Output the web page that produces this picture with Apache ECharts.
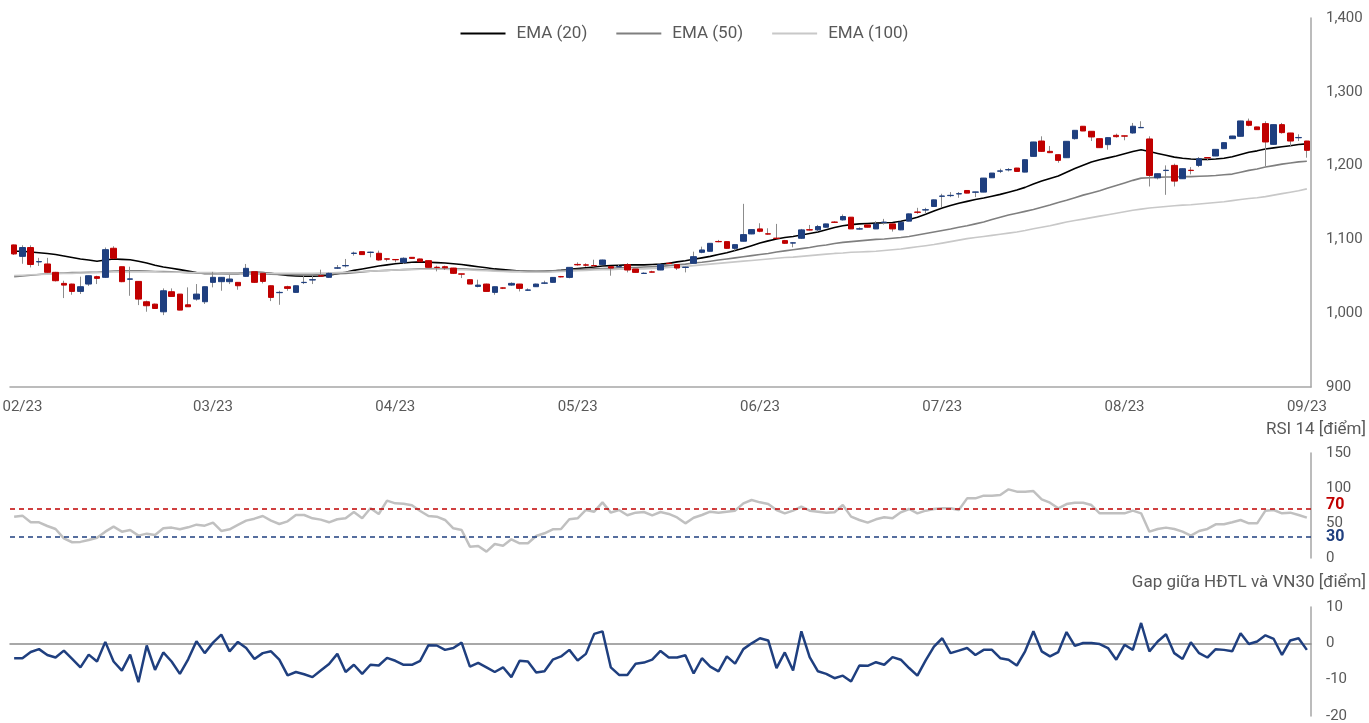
<!DOCTYPE html>
<html>
<head>
<meta charset="utf-8">
<title>HĐTL VN30 - EMA, RSI, Gap</title>
<script src="https://cdn.jsdelivr.net/npm/echarts@6/dist/echarts.min.js"></script>
<style>
    html, body { margin: 0; padding: 0; background: #fff; }
    #chart { width: 1369px; height: 723px; }
</style>
</head>
<body>
<div id="chart"></div>
<script>
// nến ngày: [mở cửa, đóng cửa, thấp nhất, cao nhất]
const ohlc = [
    [1092.5, 1080.3, 1079, 1093], [1077, 1089, 1067, 1092], [1089, 1066, 1062, 1092], [1069.5, 1070, 1064, 1075],
    [1066.7, 1055.4, 1055, 1075], [1055.4, 1044, 1043, 1056], [1040.4, 1038.1, 1020.5, 1044], [1039.5, 1029.5, 1025, 1040],
    [1029.5, 1035.9, 1026, 1049.5], [1039.5, 1050.8, 1037, 1051], [1049.5, 1047.2, 1039.5, 1050.8], [1048.6, 1086.1, 1048, 1089],
    [1088, 1074.4, 1073.5, 1090.7], [1063, 1042.7, 1042, 1063], [1046, 1046.5, 1023.6, 1063], [1043.1, 1019.1, 1011, 1043.5],
    [1015.5, 1010.1, 1002, 1017], [1012.3, 1006.4, 1006, 1013], [1001.9, 1030.4, 997.4, 1033.6], [1029.1, 1022.7, 1022.7, 1033.6],
    [1025.9, 1004.2, 1004, 1026], [1011.4, 1008.7, 1008.7, 1035], [1019.1, 1025.9, 1017, 1039.5], [1015.5, 1035.9, 1012.5, 1036],
    [1041.8, 1048.6, 1035, 1056], [1042.7, 1048.6, 1030.4, 1049], [1042.7, 1046.3, 1039.5, 1051.7], [1041.8, 1037.2, 1031.8, 1042],
    [1049.9, 1060.8, 1049.5, 1066.7], [1056.2, 1041.8, 1041, 1056.5], [1054, 1043.1, 1040.4, 1054], [1037.2, 1021.4, 1016.4, 1037.5],
    [1027.8, 1028.2, 1011.4, 1030.4], [1035.9, 1033.6, 1030.4, 1037.2], [1028.2, 1037.2, 1028, 1037.5], [1041.5, 1041.8, 1039.5, 1051],
    [1045, 1045.4, 1039.5, 1050.8], [1050.8, 1050.3, 1049.9, 1059], [1048.6, 1054, 1048, 1055], [1061, 1061.5, 1060, 1065.3],
    [1064.2, 1064.6, 1062, 1073.5], [1081, 1081.4, 1078, 1083.4], [1083.4, 1079.4, 1079, 1083.6], [1082.3, 1082.7, 1075.7, 1083.4],
    [1081.2, 1072.1, 1071.2, 1084.8], [1073.7, 1073.2, 1070.3, 1074], [1072.8, 1072.4, 1068.9, 1073], [1068.9, 1074.4, 1066.7, 1075.7],
    [1075.7, 1074.3, 1074, 1076], [1073.5, 1069.8, 1069.5, 1074], [1071.2, 1062.1, 1062, 1071.5], [1062.3, 1061.9, 1056.7, 1064.4],
    [1063, 1061.5, 1058.5, 1064.4], [1061.2, 1054, 1053.1, 1061.5], [1053.3, 1052.9, 1047.6, 1053.5], [1045.4, 1039.5, 1039.5, 1045.6],
    [1036.3, 1038.1, 1035, 1045.4], [1039.5, 1029.5, 1029.5, 1040], [1028.2, 1035.9, 1025, 1036], [1034.3, 1033.9, 1032.7, 1035],
    [1038.1, 1040.4, 1037.2, 1041.8], [1039.5, 1033.6, 1029.5, 1039.7], [1031.1, 1031.5, 1030.4, 1033.6], [1035.9, 1039.5, 1035.5, 1040],
    [1040.6, 1041, 1039.5, 1044], [1041.8, 1048.5, 1041.5, 1049], [1049.6, 1049.2, 1048.5, 1050.5], [1048.5, 1062.1, 1047.2, 1062.3],
    [1066.1, 1065.5, 1064.4, 1068.9], [1065.5, 1065.1, 1063, 1067.6], [1064.6, 1064.2, 1063, 1072.5], [1065.8, 1072.1, 1065.5, 1072.5],
    [1063, 1061.2, 1050.8, 1063.2], [1062.8, 1063.2, 1061.2, 1065.8], [1065.8, 1058.5, 1055.3, 1068], [1059.9, 1055.3, 1055, 1060],
    [1053.8, 1054.2, 1053.1, 1055.3], [1056, 1055.6, 1055.3, 1057.6], [1058.5, 1065.8, 1058.3, 1066], [1067.8, 1067.4, 1067.1, 1068.9],
    [1065.8, 1061.2, 1058.5, 1066], [1062, 1062.4, 1055.3, 1063], [1067.6, 1076.6, 1067.5, 1083.4], [1082.5, 1085.7, 1081.2, 1090.2],
    [1083.9, 1094.7, 1083.5, 1095], [1097.2, 1096.8, 1096.1, 1099.3], [1097, 1087.9, 1087.5, 1097.2], [1087.9, 1092.9, 1084.8, 1093],
    [1097.5, 1106.5, 1097.3, 1148.2], [1107.4, 1113.3, 1107, 1113.5], [1114.2, 1111, 1109.7, 1121.9], [1107.6, 1107.2, 1106.5, 1115.1],
    [1101.7, 1101.3, 1100.6, 1121], [1098.4, 1094.7, 1093.8, 1099.3], [1095, 1095.4, 1089.3, 1096], [1101.5, 1112.9, 1100.6, 1114.2],
    [1113.1, 1112.7, 1112, 1119.6], [1112.9, 1117.4, 1111, 1119.6], [1116.5, 1121, 1116, 1121.2], [1123.5, 1123.1, 1122.4, 1124.6],
    [1126.4, 1131, 1125.5, 1133.7], [1130.1, 1114.2, 1114, 1130.3], [1114, 1114.4, 1113.3, 1116.5], [1119.6, 1116.5, 1116.3, 1119.8],
    [1114.2, 1121, 1114, 1124.6], [1123, 1123.4, 1120.1, 1127.8], [1121, 1114.2, 1110.6, 1121.2], [1112.9, 1123.3, 1112.5, 1123.5],
    [1124.7, 1134.6, 1124.5, 1135], [1137.1, 1136.7, 1134.6, 1142.8], [1139.8, 1140.2, 1134.6, 1142.8], [1144.6, 1153.6, 1144.5, 1154],
    [1158.4, 1158.8, 1143.7, 1161.8], [1159.3, 1159.7, 1157.3, 1164.1], [1161.6, 1162, 1156.4, 1164.1], [1166.3, 1162.7, 1162.5, 1166.5],
    [1163.9, 1164.3, 1157.3, 1164.5], [1164.1, 1183.1, 1164, 1183.3], [1183.5, 1189.9, 1183.3, 1190], [1192.4, 1192.8, 1189.9, 1195.8],
    [1194.2, 1194.6, 1192.1, 1196.7], [1196.7, 1192.1, 1192, 1196.9], [1191.2, 1208, 1191, 1208.2], [1212.5, 1232, 1212.3, 1232.2],
    [1233.3, 1219.3, 1218.4, 1239.7], [1219.3, 1217.5, 1217, 1226.6], [1214.8, 1207.1, 1203.9, 1215], [1210.7, 1232.9, 1210.5, 1233],
    [1236.5, 1247.8, 1235.2, 1248], [1253.3, 1246.9, 1246.7, 1253.5], [1246.5, 1238.8, 1233.3, 1246.7], [1236.5, 1224.3, 1224.1, 1236.7],
    [1228.4, 1237.9, 1221.6, 1238.1], [1241, 1239.2, 1237.9, 1243.3], [1240.3, 1239.9, 1234.3, 1240.5], [1244.2, 1253.3, 1243.3, 1257.8],
    [1251.3, 1251.7, 1251.3, 1260.1], [1236.1, 1186.7, 1171.7, 1239.7], [1183.5, 1189, 1181.3, 1189.2], [1193.3, 1193.7, 1160.4, 1200.3],
    [1200.3, 1179, 1171.7, 1202.6], [1182.2, 1195.8, 1182, 1196], [1193.7, 1193.3, 1188.1, 1198], [1200.3, 1209.3, 1198, 1211.6],
    [1210.9, 1210.5, 1207.1, 1211.6], [1213, 1222, 1212.8, 1222.2], [1222.9, 1231.1, 1222.7, 1231.3], [1236.5, 1240.1, 1236.3, 1240.3],
    [1239.7, 1260.5, 1239.5, 1260.7], [1260.1, 1254.6, 1253.3, 1263.7], [1252.4, 1248.7, 1248.5, 1252.6], [1256.9, 1232, 1199.4, 1260.1],
    [1228.8, 1255.5, 1228.6, 1255.7], [1255.5, 1244.7, 1243.3, 1257.8], [1244.2, 1233.3, 1226.1, 1244.4], [1237.7, 1238.1, 1233.3, 1242.4],
    [1233.3, 1220.7, 1210.7, 1233.5]
];

const ema20 = [
    1084, 1084, 1083, 1082, 1081, 1079.5, 1077.5, 1075.5, 1073.5, 1072,
    1070.5, 1072, 1073.5, 1073, 1072.5, 1070.5, 1068, 1065, 1062.5, 1061,
    1059, 1057, 1055, 1054, 1054, 1054, 1054, 1054, 1055, 1055.5,
    1055, 1054, 1052.5, 1051, 1050.5, 1050, 1050, 1050.5, 1051.5, 1053.5,
    1055.5, 1058, 1060, 1062, 1064, 1065.5, 1067, 1068, 1069, 1069.5,
    1069, 1068.5, 1068, 1067, 1066, 1064.5, 1063, 1061.5, 1060, 1059,
    1058, 1057, 1056.5, 1056, 1056.5, 1057, 1058, 1059.5, 1060.5, 1061.5,
    1062.5, 1064, 1064.5, 1065, 1065.5, 1065.5, 1065.5, 1066, 1066.5, 1067.5,
    1069.5, 1071, 1073, 1075, 1077, 1079.5, 1082, 1085, 1088, 1091.5,
    1095, 1098, 1100.5, 1102.5, 1104, 1106, 1108, 1110, 1113, 1116,
    1118.5, 1120, 1121, 1121.5, 1122, 1122.5, 1123, 1124.5, 1127, 1130,
    1134, 1138.5, 1142.5, 1146, 1149, 1151.5, 1154, 1156, 1158.5, 1161,
    1164, 1167, 1170.5, 1175, 1179, 1182.5, 1186, 1191, 1196, 1200.5,
    1205, 1208, 1210.5, 1213, 1216, 1219, 1221.5, 1219, 1216.5, 1214,
    1211.5, 1210, 1209, 1208.5, 1208.5, 1209, 1210, 1212, 1215, 1218,
    1220, 1222.5, 1224, 1225.5, 1227, 1228.5, 1229.5
];

const ema50 = [
    1049.5, 1050.5, 1051.5, 1052.5, 1053.5, 1054, 1054.5, 1055, 1055, 1055.5,
    1055.5, 1056.5, 1057, 1057.5, 1057.5, 1057.5, 1057, 1056.5, 1056.5, 1056,
    1055.5, 1055, 1054.5, 1054, 1054, 1054, 1053.5, 1053.5, 1053.5, 1053.5,
    1053.5, 1053, 1052.5, 1052.5, 1052, 1052, 1052, 1052.5, 1053, 1053.5,
    1054, 1055, 1056, 1057, 1057.5, 1058, 1058.5, 1059, 1059.5, 1060,
    1060, 1060.5, 1060.5, 1060, 1060, 1059.5, 1059, 1058.5, 1058, 1057.5,
    1057.5, 1057, 1057, 1057, 1057, 1057.5, 1058, 1058.5, 1059, 1059.5,
    1060, 1060.5, 1061, 1061.5, 1062, 1062, 1062.5, 1063, 1063.5, 1064.5,
    1065.5, 1066.5, 1068, 1069, 1070.5, 1072, 1073.5, 1075, 1076.5, 1078,
    1079.5, 1081, 1083, 1084.5, 1086, 1087.5, 1089, 1091, 1092.5, 1094.5,
    1096, 1097, 1098, 1099, 1100, 1100.5, 1101.5, 1102.5, 1104, 1106,
    1108, 1110, 1112, 1114, 1116.5, 1118.5, 1121, 1123.5, 1127, 1130,
    1133, 1135.5, 1138, 1140.5, 1143.5, 1146.5, 1150, 1153, 1156.5, 1160,
    1163, 1166, 1169.5, 1173, 1176.5, 1180, 1183, 1183.5, 1184, 1184.5,
    1184.5, 1185, 1185, 1185.5, 1186, 1186.5, 1187.5, 1188.5, 1191, 1193.5,
    1195.5, 1198, 1200, 1202, 1203.5, 1205, 1206
];

const ema100 = [
    1051, 1051.5, 1052, 1052.5, 1053, 1053.5, 1054, 1054, 1054.5, 1054.5,
    1055, 1055.5, 1056, 1056, 1056, 1056, 1056, 1056, 1055.5, 1055.5,
    1055.5, 1055, 1055, 1055, 1055, 1054.5, 1054.5, 1054.5, 1054.5, 1054.5,
    1054.5, 1054, 1054, 1054, 1054, 1054, 1054, 1054.5, 1054.5, 1055,
    1055.5, 1056, 1056.5, 1057, 1057.5, 1058, 1058.5, 1059, 1059, 1059.5,
    1059.5, 1059.5, 1059.5, 1059, 1059, 1058.5, 1058, 1057.5, 1057, 1056.5,
    1056, 1056, 1055.5, 1055.5, 1055.5, 1056, 1056.5, 1057, 1057.5, 1058,
    1058.5, 1059, 1059, 1059.5, 1059.5, 1060, 1060, 1060.5, 1061, 1062,
    1062.5, 1063.5, 1064.5, 1065.5, 1066.5, 1067.5, 1068.5, 1069.5, 1070.5, 1071.5,
    1072.5, 1073.5, 1074.5, 1075.5, 1076, 1077, 1078, 1079, 1080, 1081,
    1081.5, 1082.5, 1083, 1083.5, 1084, 1085, 1086, 1087, 1088.5, 1090,
    1091.5, 1093, 1095, 1097, 1099, 1101, 1102.5, 1104, 1105.5, 1107,
    1108.5, 1110, 1112, 1114.5, 1116.5, 1118.5, 1121, 1123.5, 1125.5, 1127.5,
    1129.5, 1131.5, 1133.5, 1135.5, 1137.5, 1139.5, 1141, 1142.5, 1143.5, 1144.5,
    1145.5, 1146.5, 1147, 1148, 1149, 1150, 1151, 1152.5, 1154, 1155.5,
    1156.5, 1158, 1160, 1162, 1164, 1166, 1168.5
];

const rsi14 = [
    59, 60.5, 51, 51, 45.7, 41.5, 28, 22.5, 23, 25.7,
    29, 37.6, 44.8, 37.6, 40, 32, 34.8, 33, 42.4, 43.4,
    41, 43.8, 47.6, 46.2, 50.5, 38.6, 41, 47.2, 53.4, 56.2,
    60, 53.4, 48.6, 52.4, 61.4, 61.4, 56.7, 54.8, 51, 55.3,
    56.7, 65.7, 56.7, 71, 62.9, 81.9, 78.1, 77.6, 75.3, 67.2,
    60, 59.1, 54.3, 42.4, 40, 16.2, 17.2, 9.1, 20, 17.6,
    26.7, 21, 21, 31.5, 35.3, 41, 41.5, 55.3, 56.7, 68.6,
    66.2, 79.5, 64.8, 68.6, 61, 64.8, 65.7, 61, 65.7, 62.9,
    58, 49.5, 57.5, 61.4, 66.2, 64.8, 66.2, 67.6, 78.1, 82.9,
    79.5, 77.1, 68.6, 63.8, 67.6, 73.4, 67.6, 66.2, 64.8, 65.3,
    75.7, 59.1, 54.3, 50.5, 55.3, 58.1, 56.7, 65.3, 70, 63.8,
    67.6, 70, 71, 71, 68.6, 85.2, 85.2, 89.1, 89.1, 90,
    98.1, 94.8, 94.8, 95.7, 83.8, 79, 71, 77.1, 79, 79,
    75.7, 63.8, 63.8, 63.8, 63.8, 67.6, 63.8, 37.6, 41.5, 43.4,
    41.5, 37.6, 31.9, 38.6, 41.5, 48.1, 48.1, 51, 54.3, 49.5,
    49.5, 67.6, 68.6, 63.8, 64.8, 61.4, 57.6
];

// chênh lệch giữa HĐTL và VN30
const gap = [
    -4.1, -4.1, -2.4, -1.6, -3.2, -3.9, -2.0, -4.3, -6.6, -3.1,
    -5.0, 0.4, -5.0, -7.5, -3.1, -10.7, -0.6, -7.3, -2.5, -5.0,
    -8.4, -4.4, 0.6, -2.7, 0.2, 2.4, -2.2, 0.4, -1.3, -4.3,
    -2.7, -2.2, -4.5, -8.8, -7.9, -8.5, -9.3, -7.5, -5.7, -2.9,
    -7.9, -5.9, -8.4, -5.9, -6.1, -4.0, -4.8, -5.9, -5.9, -4.8,
    -0.5, -0.6, -1.8, -1.3, 0.2, -6.4, -5.4, -6.6, -7.9, -6.6,
    -9.3, -4.8, -5.0, -8.0, -7.7, -4.5, -3.6, -1.8, -4.7, -2.9,
    2.6, 3.3, -6.6, -8.7, -8.7, -5.6, -5.3, -4.5, -2.1, -3.9,
    -3.9, -3.3, -8.3, -4.1, -6.4, -7.7, -3.6, -5.6, -1.6, 0.0,
    1.4, 0.8, -6.8, -2.5, -7.5, 3.3, -3.8, -7.7, -8.4, -9.6,
    -8.9, -10.5, -6.1, -6.2, -5.2, -5.9, -3.8, -4.5, -6.8, -8.9,
    -4.7, -0.9, 1.4, -2.7, -2.0, -1.3, -3.2, -1.8, -1.8, -4.1,
    -4.5, -6.1, -2.2, 3.3, -2.2, -3.6, -2.4, 3.1, -0.7, 0.1,
    0.1, -0.2, -1.3, -4.5, -0.4, -1.8, 5.6, -2.2, 0.5, 2.5,
    -2.7, -4.3, 0.3, -2.7, -3.9, -1.6, -1.8, -2.2, 2.8, -0.2,
    0.5, 2.2, 1.2, -3.2, 0.8, 1.4, -1.8
];

// nhãn trục thời gian
const tickIndex = [1, 24, 46, 68, 90, 112, 134, 156];
const tickText = ['02/23', '03/23', '04/23', '05/23', '06/23', '07/23', '08/23', '09/23'];

// ngưỡng RSI và các mốc trục RSI
const rsiLevels = [70, 30];
const rsiTicks = [0, 50, 100, 150];

const FONT = 'Roboto, "Liberation Sans", sans-serif';
const TEXT_COLOR = '#595959';
const AXIS_COLOR = '#a6a6a6';
const UP = '#1f3f7f';
const DOWN = '#c00000';
const WICK = '#8c8c8c';

const days = ohlc.map((d, i) => String(i));
// thân nến không có râu, râu vẽ riêng màu xám
const bodies = ohlc.map(d => [d[0], d[1], Math.min(d[0], d[1]), Math.max(d[0], d[1])]);

const chart = echarts.init(document.getElementById('chart'));

const gridBase = { left: 10, right: 58, outerBoundsMode: 'none', containLabel: false };

function rightAxis(idx, min, max, interval, formatter) {
    return {
        type: 'value',
        gridIndex: idx,
        position: 'right',
        min: min,
        max: max,
        interval: interval,
        axisLine: { show: true, lineStyle: { color: AXIS_COLOR, width: 1.5 } },
        axisTick: { show: false },
        splitLine: { show: false },
        axisLabel: {
            color: TEXT_COLOR,
            fontSize: 15,
            fontFamily: FONT,
            margin: 15,
            hideOverlap: false,
            showMinLabel: true,
            showMaxLabel: true,
            formatter: formatter
        }
    };
}

// trục RSI: bước 10, chỉ hiện các mốc chính và hai ngưỡng 70/30
const rsiAxis = rightAxis(1, 0, 150, 10, (v) => {
    if (v === rsiLevels[0]) return '{hi|' + v + '}';
    if (v === rsiLevels[1]) return '{lo|' + v + '}';
    return rsiTicks.includes(v) ? String(v) : '';
});
rsiAxis.axisLabel.rich = {
    hi: { color: DOWN, fontSize: 16, fontWeight: 'bold', fontFamily: FONT, padding: [0, 0, 8, 0] },
    lo: { color: UP, fontSize: 16, fontWeight: 'bold', fontFamily: FONT }
};

const titleStyle = { color: TEXT_COLOR, fontSize: 17, fontWeight: 'normal', fontFamily: FONT };

const option = {
    animation: false,
    backgroundColor: '#fff',
    textStyle: { fontFamily: FONT },
    title: [
        { text: 'RSI 14 [điểm]', right: 3, top: 421, padding: 0, textStyle: titleStyle },
        { text: 'Gap giữa HĐTL và VN30 [điểm]', right: 3, top: 574, padding: 0, textStyle: titleStyle }
    ],
    legend: {
        data: ['EMA (20)', 'EMA (50)', 'EMA (100)'],
        top: 20,
        left: 'center',
        icon: 'rect',
        itemWidth: 45,
        itemHeight: 2,
        itemGap: 29,
        textStyle: { color: TEXT_COLOR, fontSize: 17, fontFamily: FONT, padding: [0, 0, 0, 6] }
    },
    grid: [
        Object.assign({ top: 18, height: 369 }, gridBase),
        Object.assign({ top: 453, height: 105 }, gridBase),
        Object.assign({ top: 607, height: 109 }, gridBase)
    ],
    xAxis: [
        {
            type: 'category',
            gridIndex: 0,
            data: days,
            boundaryGap: true,
            axisLine: { show: true, lineStyle: { color: AXIS_COLOR, width: 1.5 } },
            axisTick: { show: false },
            splitLine: { show: false },
            axisLabel: {
                color: TEXT_COLOR,
                fontSize: 15,
                fontFamily: FONT,
                margin: 13,
                interval: (i) => tickIndex.includes(i),
                formatter: (v, i) => tickText[tickIndex.indexOf(i)] || ''
            }
        },
        {
            type: 'category',
            gridIndex: 1,
            data: days,
            boundaryGap: true,
            axisLine: { show: false },
            axisTick: { show: false },
            axisLabel: { show: false }
        },
        {
            type: 'category',
            gridIndex: 2,
            data: days,
            boundaryGap: true,
            axisLine: { show: true, onZero: true, lineStyle: { color: '#8c8c8c', width: 1.5 } },
            axisTick: { show: false },
            axisLabel: { show: false }
        }
    ],
    yAxis: [
        rightAxis(0, 900, 1400, 100, (v) => v.toLocaleString('en-US')),
        rsiAxis,
        rightAxis(2, -20, 10, 10)
    ],
    series: [
        {
            name: 'EMA (20)',
            type: 'line',
            xAxisIndex: 0,
            yAxisIndex: 0,
            data: ema20,
            symbol: 'none',
            color: '#000000',
            lineStyle: { color: '#000000', width: 1.6 },
            z: 1
        },
        {
            name: 'EMA (50)',
            type: 'line',
            xAxisIndex: 0,
            yAxisIndex: 0,
            data: ema50,
            symbol: 'none',
            color: '#7f7f7f',
            lineStyle: { color: '#7f7f7f', width: 1.6 },
            z: 1
        },
        {
            name: 'EMA (100)',
            type: 'line',
            xAxisIndex: 0,
            yAxisIndex: 0,
            data: ema100,
            symbol: 'none',
            color: '#c8c8c8',
            lineStyle: { color: '#c8c8c8', width: 1.6 },
            z: 1
        },
        {
            name: 'wick',
            type: 'candlestick',
            xAxisIndex: 0,
            yAxisIndex: 0,
            data: ohlc,
            barWidth: 1,
            silent: true,
            itemStyle: {
                color: WICK, color0: WICK,
                borderColor: WICK, borderColor0: WICK,
                borderWidth: 1
            },
            z: 2
        },
        {
            name: 'body',
            type: 'candlestick',
            xAxisIndex: 0,
            yAxisIndex: 0,
            data: bodies,
            barWidth: '72%',
            itemStyle: {
                color: UP, color0: DOWN,
                borderColor: UP, borderColor0: DOWN,
                borderWidth: 1
            },
            z: 3
        },
        {
            name: 'RSI 14',
            type: 'line',
            xAxisIndex: 1,
            yAxisIndex: 1,
            data: rsi14,
            symbol: 'none',
            lineStyle: { color: '#c0c0c0', width: 2.5 },
            markLine: {
                silent: true,
                symbol: 'none',
                label: { show: false },
                data: [
                    { yAxis: rsiLevels[0], lineStyle: { color: DOWN, type: [5, 4], width: 1.5 } },
                    { yAxis: rsiLevels[1], lineStyle: { color: UP, type: [5, 4], width: 1.5 } }
                ]
            }
        },
        {
            name: 'Gap',
            type: 'line',
            xAxisIndex: 2,
            yAxisIndex: 2,
            data: gap,
            symbol: 'none',
            lineStyle: { color: UP, width: 2.5 },
            z: 3
        }
    ]
};

chart.setOption(option);
</script>
</body>
</html>
